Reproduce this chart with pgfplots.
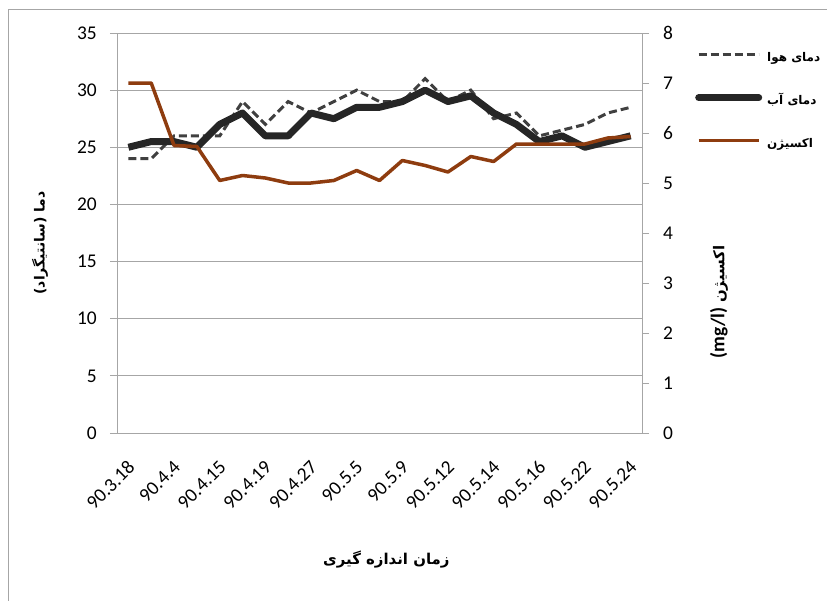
\documentclass[border=0pt]{standalone}
\usepackage{fontspec}
\setmainfont{Carlito}
\newfontfamily\fa[Script=Arabic]{DejaVu Sans}
\TeXXeTstate=1
\usepackage{pgfplots}
\pgfplotsset{compat=1.18}

\definecolor{gridgray}{HTML}{A6A6A6}
\definecolor{airc}{HTML}{404040}
\definecolor{waterc}{HTML}{262626}
\definecolor{oxc}{HTML}{8E3C0F}

\begin{document}
\begin{tikzpicture}
\useasboundingbox (0,0) rectangle (827bp,601bp);
\draw[gridgray,line width=0.8bp] (8bp,0bp) -- (8bp,592bp) -- (827bp,592bp);

\pgfplotsset{
  myax/.style={at={(117bp,168bp)},anchor=south west,
    width=525bp,height=400bp,scale only axis,
    xmin=-0.5,xmax=22.5,
    axis line style={gridgray,line width=0.8bp},
    tick style={gridgray,line width=0.8bp},
    tick align=outside,major tick length=7bp,
    /pgf/number format/assume math mode=true,
    ticklabel style={font=\fontsize{19.5}{20}\selectfont,text=black},
  },
}

% ---------- temperature (left axis) ----------
\begin{axis}[myax,
  ymin=0,ymax=35,ytick={0,5,...,35},
  ytick pos=left,
  xtick={0,2,...,22},
  xticklabels={90.3.18,90.4.4,90.4.15,90.4.19,90.4.27,90.5.5,90.5.9,90.5.12,90.5.14,90.5.16,90.5.22,90.5.24},
  major x tick style={draw=none},
  xticklabel style={xshift=3bp,rotate=45,anchor=east,inner sep=0pt},
  xticklabel shift=24bp,
  yticklabel style={inner sep=0pt},
  yticklabel shift=13bp,
  ymajorgrids,grid style={gridgray,line width=0.8bp},
  clip=false]
  \addplot[airc,line width=3bp,dash pattern=on 8bp off 4bp]
    coordinates {(0,24)(1,24)(2,26)(3,26)(4,26)(5,29)(6,27)(7,29)(8,28)(9,29)(10,30)(11,29)
      (12,29)(13,31)(14,29)(15,30)(16,27.5)(17,28)(18,26)(19,26.5)(20,27)(21,28)(22,28.5)};
  \addplot[waterc,line width=7bp,line join=round]
    coordinates {(0,25)(1,25.5)(2,25.5)(3,25)(4,27)(5,28)(6,26)(7,26)(8,28)(9,27.5)(10,28.5)(11,28.5)
      (12,29)(13,30)(14,29)(15,29.5)(16,28)(17,27)(18,25.5)(19,26)(20,25)(21,25.5)(22,26)};
  \node[rotate=90,font=\fa\bfseries\fontsize{14}{15}\selectfont]
    at (axis description cs:-0.1467,0.475) {\beginR دما (سانتیگراد)\endR};
  \node[font=\fa\bfseries\fontsize{15}{16}\selectfont]
    at (axis description cs:0.513,-0.3175) {\beginR زمان اندازه گیری\endR};
\end{axis}

% ---------- oxygen (right axis) ----------
\begin{axis}[myax,
  ymin=0,ymax=8,ytick={0,1,...,8},
  ytick pos=right,
  hide x axis,
  yticklabel style={inner sep=0pt},
  yticklabel shift=14bp,
  clip=false,
  legend style={at={(axis description cs:1.101,0.955)},anchor=north west,
    draw=none,fill=none,inner sep=0pt,row sep=29bp,column sep=5bp,
    font=\fa\bfseries\fontsize{12}{13}\selectfont,
    nodes={inner sep=0pt,text height=10bp,text depth=4bp}},
  legend cell align=left,
  legend image code/.code={\draw[#1] (0bp,4bp) -- (60bp,4bp);}]
  \addlegendimage{airc,line width=3bp,dash pattern=on 8bp off 4bp}
  \addlegendentry{\beginR دمای هوا\endR}
  \addlegendimage{waterc,line width=7bp,line cap=round}
  \addlegendentry{\beginR دمای آب\endR}
  \addplot[oxc,line width=3.5bp,line join=round]
    coordinates {(0,7.0)(1,7.0)(2,5.75)(3,5.73)(4,5.05)(5,5.15)(6,5.1)(7,5.0)(8,5.0)(9,5.05)(10,5.25)(11,5.05)
      (12,5.45)(13,5.35)(14,5.22)(15,5.53)(16,5.43)(17,5.78)(18,5.78)(19,5.78)(20,5.78)(21,5.9)(22,5.93)};
  \addlegendentry{اکسیژن}
  \node[rotate=90,font=\fontsize{19.5}{20}\selectfont\bfseries]
    at (axis description cs:1.1467,0.3275) {\beginR{\fa\fontsize{15}{16}\selectfont اکسیژن} \beginL(mg/l)\endL\endR};
\end{axis}
\end{tikzpicture}
\end{document}
